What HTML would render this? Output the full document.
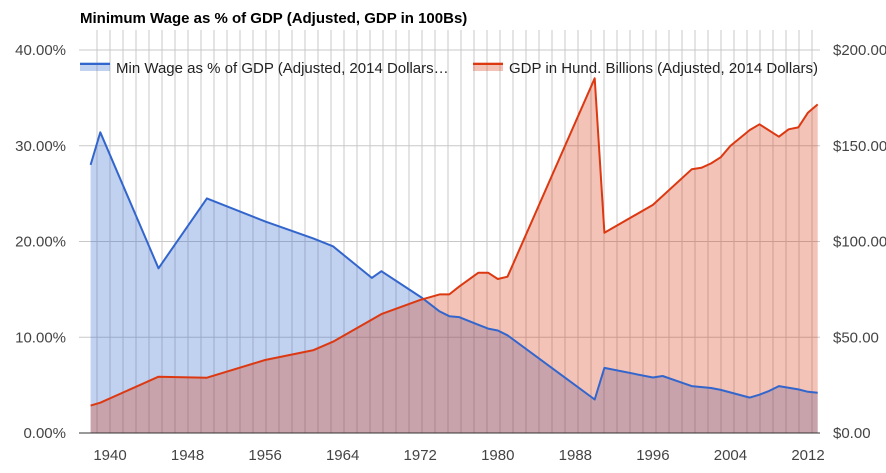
<!DOCTYPE html>
<html><head><meta charset="utf-8"><style>
body{margin:0;background:#fff;font-family:"Liberation Sans",Arial,sans-serif;}
svg{display:block}
</style></head><body>
<svg id="chart" width="886" height="473">
<text x="80" y="23" font-size="15" font-weight="bold" fill="#000">Minimum Wage as % of GDP (Adjusted, GDP in 100Bs)</text>
<g id="grid"></g><g id="areas"></g><g id="lines"></g><g id="axes"></g>
<g>
<g>
<rect x="80" y="62" width="30" height="9" fill="rgba(51,102,204,0.3)"/>
<line x1="80" y1="64" x2="110" y2="64" stroke="#3366cc" stroke-width="2"/>
<text x="116" y="73" font-size="15" fill="#222">Min Wage as % of GDP (Adjusted, 2014 Dollars…</text></g>
<g>
<rect x="473" y="62" width="30" height="9" fill="rgba(220,57,18,0.3)"/>
<line x1="473" y1="64" x2="503" y2="64" stroke="#dc3912" stroke-width="2"/>
<text x="509" y="73" font-size="15" fill="#222">GDP in Hund. Billions (Adjusted, 2014 Dollars)</text></g>
</g>
</svg>
<script>
const wageYears=[1938,1939,1945,1950,1956,1961,1963,1967,1968,1972.2,1974,1975,1976,1978,1979,1980,1981,1990,1991,1996,1997,2000,2002,2003,2006,2007,2008,2009,2011,2012,2013];
const wageValues=[28.0,31.4,17.2,24.5,22.1,20.3,19.5,16.2,16.9,14.1,12.7,12.2,12.1,11.3,10.9,10.7,10.2,3.5,6.8,5.8,5.95,4.9,4.7,4.5,3.7,4.0,4.4,4.9,4.55,4.3,4.2];
const gdpYears=[1938,1939,1945,1950,1956,1961,1963,1968,1972,1974,1975,1976,1978,1979,1980,1981,1990,1991,1996,2000,2001,2002,2003,2004,2006,2007,2009,2010,2011,2012,2013];
const gdpValues=[14.3,15.8,29.4,28.9,38.1,43.3,47.7,62.1,69.5,72.4,72.4,76.4,83.7,83.7,80.4,81.6,185.2,104.6,119.1,137.7,138.5,140.8,144,149.9,158.2,161.2,154.7,158.6,159.6,167.3,171.6];
const leftTicks=[0,10,20,30,40];
const leftTickLabels=["0.00%","10.00%","20.00%","30.00%","40.00%"];
const rightTicks=[0,50,100,150,200];
const rightTickLabels=["$0.00","$50.00","$100.00","$150.00","$200.00"];
const xTicks=[1940,1948,1956,1964,1972,1980,1988,1996,2004,2012];
const NS="http://www.w3.org/2000/svg";
const X0=89,X1=820,Y0=433,Y1=50;
const x=y=>X0+(y-1938)*(808-110)/72+ (110-X0-2*(808-110)/72);
const yL=v=>Y0-v*(Y0-Y1)/40;
const yR=v=>Y0-v*(Y0-Y1)/200;
function mk(tag,attrs,parent){const e=document.createElementNS(NS,tag);for(const k in attrs)e.setAttribute(k,attrs[k]);parent.appendChild(e);return e;}
const grid=document.getElementById('grid'),areas=document.getElementById('areas'),lines=document.getElementById('lines'),axes=document.getElementById('axes');
for(let gx=110-13;gx<=X1;gx+=13){if(gx<X0)continue;
const l=mk('line',{x1:gx,y1:Y1-20,x2:gx,y2:Y0,stroke:'#c8c8c8','stroke-width':1},grid);

}
leftTicks.forEach((t,i)=>{
const l=mk('line',{x1:X0-10,y1:yL(t),x2:X1,y2:yL(t),stroke:'#c8c8c8','stroke-width':1},grid);


const tl=mk('text',{x:66,y:yL(t)+5,'text-anchor':'end','font-size':15,fill:'#444'},axes);tl.textContent=leftTickLabels[i];

});
rightTicks.forEach((t,i)=>{
const tl=mk('text',{x:833,y:yR(t)+5,'font-size':15,fill:'#444'},axes);tl.textContent=rightTickLabels[i];

});
xTicks.forEach(t=>{
const tl=mk('text',{x:x(t),y:460,'text-anchor':'middle','font-size':15,fill:'#444'},axes);tl.textContent=t;

});
function series(years,vals,sy,color,fill,name){
const pts=years.map((yr,i)=>x(yr).toFixed(1)+','+sy(vals[i]).toFixed(1));
const a=mk('polygon',{points:x(years[0])+','+Y0+' '+pts.join(' ')+' '+x(years[years.length-1])+','+Y0,fill:fill},areas);


const p=mk('polyline',{points:pts.join(' '),fill:'none',stroke:color,'stroke-width':2,'stroke-linejoin':'round'},lines);

}
series(wageYears,wageValues,yL,'#3366cc','rgba(51,102,204,0.3)','min-wage');
series(gdpYears,gdpValues,yR,'#dc3912','rgba(220,57,18,0.3)','gdp');
const base=mk('line',{x1:X0-10,y1:Y0,x2:X1,y2:Y0,stroke:'#333','stroke-width':1},axes);


</script>
</body></html>
